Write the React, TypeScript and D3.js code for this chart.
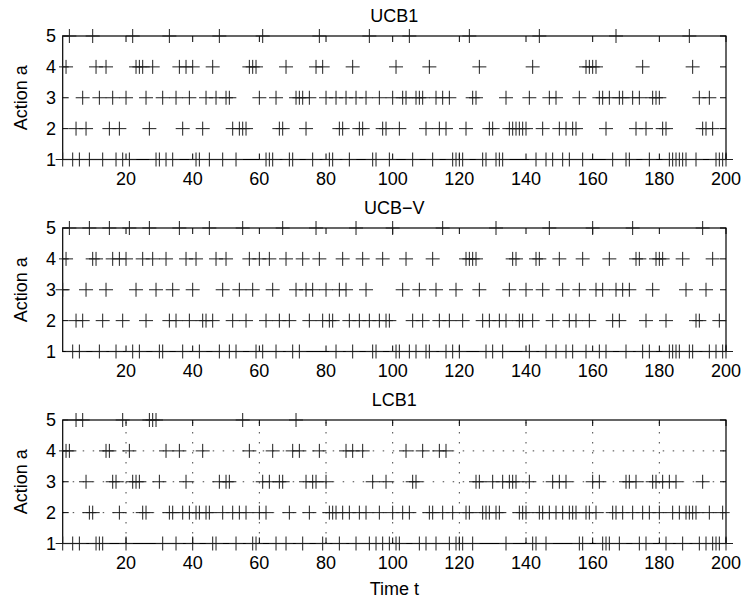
import React from 'react';
import * as d3 from 'd3';

// Time steps (t) at which each action was chosen, per algorithm.
const ucb1Action1 = [1, 4, 6, 9, 13, 17, 19, 21, 29, 30, 32, 34, 41, 42, 45, 49, 53, 62, 63, 64, 69, 70, 76, 81, 82, 87, 94, 95, 99, 106, 112, 118, 119, 120, 121, 127, 128, 131, 132, 133, 143, 146, 148, 151, 153, 157, 166, 170, 171, 177, 183, 184, 185, 186, 187, 188, 191, 197, 198, 199, 200];
const ucb1Action2 = [5, 8, 15, 18, 27, 37, 43, 52, 54, 55, 56, 66, 67, 74, 84, 85, 90, 91, 97, 98, 102, 110, 114, 116, 122, 129, 130, 135, 136, 137, 138, 139, 140, 145, 150, 152, 154, 155, 164, 173, 176, 181, 182, 193, 194, 196];
const ucb1Action3 = [7, 12, 16, 20, 26, 31, 35, 39, 44, 47, 50, 51, 60, 65, 71, 72, 73, 75, 80, 83, 86, 89, 92, 96, 100, 103, 104, 107, 108, 109, 113, 115, 117, 124, 125, 134, 141, 147, 149, 156, 162, 163, 165, 168, 169, 172, 174, 178, 179, 180, 192, 195];
const ucb1Action4 = [2, 11, 14, 23, 24, 25, 28, 36, 38, 40, 46, 57, 58, 59, 68, 77, 79, 88, 101, 111, 126, 142, 158, 159, 160, 161, 175, 190];
const ucb1Action5 = [3, 10, 22, 33, 48, 61, 78, 93, 105, 123, 144, 167, 189];

const ucbvAction1 = [4, 6, 12, 17, 22, 24, 30, 31, 37, 42, 48, 51, 53, 59, 61, 65, 70, 72, 83, 88, 94, 95, 101, 102, 105, 107, 110, 111, 116, 118, 120, 128, 130, 133, 141, 146, 149, 152, 154, 158, 162, 164, 170, 175, 177, 183, 184, 185, 186, 189, 190, 195, 197, 199, 200];
const ucbvAction2 = [5, 7, 13, 19, 26, 33, 35, 39, 43, 44, 46, 52, 56, 62, 66, 69, 75, 79, 81, 82, 87, 90, 93, 96, 98, 99, 106, 109, 114, 117, 121, 127, 129, 132, 134, 138, 139, 142, 148, 153, 155, 159, 166, 168, 176, 182, 191, 192, 198];
const ucbvAction3 = [1, 8, 14, 23, 29, 34, 40, 49, 54, 58, 64, 71, 74, 76, 80, 84, 86, 92, 103, 108, 113, 119, 126, 135, 140, 145, 151, 156, 161, 163, 167, 169, 171, 178, 188, 194];
const ucbvAction4 = [2, 10, 11, 16, 18, 20, 25, 28, 32, 38, 41, 47, 50, 57, 60, 63, 68, 73, 78, 85, 91, 97, 104, 112, 122, 123, 124, 125, 136, 137, 143, 144, 150, 157, 165, 173, 174, 179, 180, 181, 187, 196];
const ucbvAction5 = [3, 9, 15, 21, 27, 36, 45, 55, 67, 77, 89, 100, 115, 131, 147, 160, 172, 193];

const lcb1Action1 = [1, 4, 6, 11, 12, 13, 20, 31, 35, 40, 46, 47, 53, 58, 59, 65, 68, 73, 79, 84, 89, 93, 95, 97, 99, 101, 102, 108, 110, 113, 117, 119, 120, 121, 124, 134, 142, 143, 146, 156, 157, 163, 164, 165, 168, 174, 176, 182, 187, 192, 194, 196, 197, 198, 200];
const lcb1Action2 = [9, 10, 18, 25, 26, 33, 34, 37, 39, 41, 42, 44, 45, 49, 52, 54, 56, 60, 62, 69, 75, 81, 82, 83, 85, 87, 90, 92, 96, 100, 103, 105, 111, 112, 115, 118, 122, 123, 127, 128, 129, 131, 132, 138, 139, 140, 144, 145, 147, 149, 151, 153, 154, 155, 158, 159, 161, 166, 167, 169, 172, 175, 177, 180, 184, 186, 188, 189, 190, 191, 195, 199];
const lcb1Action3 = [8, 16, 17, 22, 23, 24, 30, 38, 48, 50, 51, 61, 63, 66, 67, 74, 76, 77, 80, 94, 98, 106, 107, 125, 126, 130, 133, 135, 136, 137, 141, 148, 150, 152, 160, 162, 170, 171, 173, 178, 179, 181, 183, 185, 193];
const lcb1Action4 = [2, 3, 14, 15, 21, 32, 36, 43, 57, 64, 70, 72, 78, 86, 88, 91, 104, 109, 114, 116];
const lcb1Action5 = [5, 7, 19, 27, 28, 29, 55, 71];

const panelTitles = ['UCB1', 'UCB\u2212V', 'LCB1'];
const xTicks = [20, 40, 60, 80, 100, 120, 140, 160, 180, 200];
const yTicks = [1, 2, 3, 4, 5];

const panels = [
  { title: panelTitles[0], grid: false, actions: [ucb1Action1, ucb1Action2, ucb1Action3, ucb1Action4, ucb1Action5] },
  { title: panelTitles[1], grid: false, actions: [ucbvAction1, ucbvAction2, ucbvAction3, ucbvAction4, ucbvAction5] },
  { title: panelTitles[2], grid: true, actions: [lcb1Action1, lcb1Action2, lcb1Action3, lcb1Action4, lcb1Action5] },
];

const W = 743;
const H = 602;
const left = 62.7;
const right = 726;
const tops = [36, 228, 420];
const panelH = 123.5;
const tickLen = 6;
const mk = 7;
const font = 'Arial, "Liberation Sans", Helvetica, sans-serif';
const fs = 18;

export default function App() {
  const x = d3.scaleLinear().domain([1, 200]).range([left, right]);
  const cx = (left + right) / 2;

  return (
    <div style={{ position: 'absolute', left: 0, top: 0 }}>
      <svg width={W} height={H} style={{ display: 'block', background: '#fff' }}>
        {panels.map((p, pi) => {
          const top = tops[pi];
          const bottom = top + panelH;
          const y = d3.scaleLinear().domain([1, 5]).range([bottom, top]);
          const markerPath = p.actions
            .map((ts, ai) =>
              ts
                .map((t) => {
                  const px = x(t);
                  const py = y(ai + 1);
                  return `M${px - mk},${py}H${px + mk}M${px},${py - mk}V${py + mk}`;
                })
                .join('')
            )
            .join('');
          return (
            <g key={p.title}>
              {p.grid && (
                <g stroke="#444" strokeWidth={1} strokeDasharray="1.5 8.5">
                  {xTicks.filter((v) => v < 200).map((v) => (
                    <line key={'gx' + v} x1={x(v)} x2={x(v)} y1={bottom} y2={top} />
                  ))}
                  {yTicks.filter((v) => v > 1 && v < 5).map((v) => (
                    <line key={'gy' + v} x1={left} x2={right} y1={y(v)} y2={y(v)} />
                  ))}
                </g>
              )}
              <rect x={left} y={top} width={right - left} height={panelH} fill="none" stroke="#000" strokeWidth={1.2} />
              <g stroke="#000" strokeWidth={1}>
                {xTicks.map((v) => (
                  <g key={'tx' + v}>
                    <line x1={x(v)} x2={x(v)} y1={bottom} y2={bottom - tickLen} />
                    <line x1={x(v)} x2={x(v)} y1={top} y2={top + tickLen} />
                  </g>
                ))}
                {yTicks.map((v) => (
                  <g key={'ty' + v}>
                    <line x1={left} x2={left + tickLen} y1={y(v)} y2={y(v)} />
                    <line x1={right} x2={right - tickLen} y1={y(v)} y2={y(v)} />
                  </g>
                ))}
              </g>
              <path d={markerPath} fill="none" stroke="#1e1e1e" strokeWidth={1} />
              <g fontFamily={font} fontSize={fs} fill="#000">
                {xTicks.map((v) => (
                  <text key={'lx' + v} x={x(v)} y={bottom + 25.5} textAnchor="middle">
                    {v}
                  </text>
                ))}
                {yTicks.map((v) => (
                  <text key={'ly' + v} x={56} y={y(v)} dy="0.36em" textAnchor="end">
                    {v}
                  </text>
                ))}
                <text x={cx} y={top - 14.5} textAnchor="middle">
                  {p.title}
                </text>
                <text transform={`translate(27,${top + panelH / 2}) rotate(-90)`} textAnchor="middle">
                  Action a
                </text>
              </g>
            </g>
          );
        })}
        <text x={cx} y={595} textAnchor="middle" fontFamily={font} fontSize={fs} fill="#000">
          Time t
        </text>
      </svg>
    </div>
  );
}
